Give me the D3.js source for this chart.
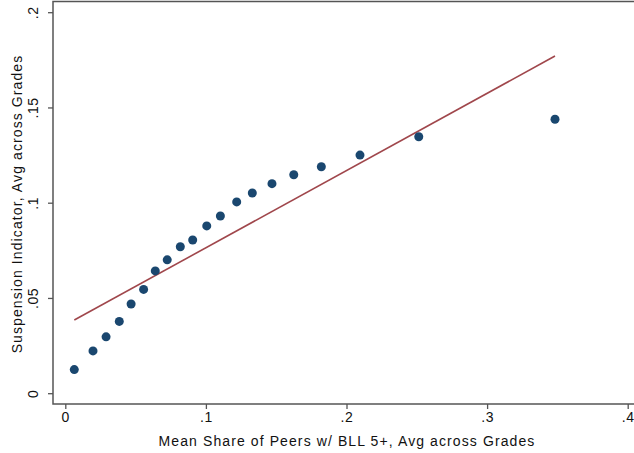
<!DOCTYPE html>
<html>
<head>
<meta charset="utf-8">
<script src="https://cdn.jsdelivr.net/npm/d3@7"></script>
<style>
  body { margin: 0; background: #fff; }
  text { font-family: "Liberation Sans", Arial, sans-serif; fill: #111; }
</style>
</head>
<body>
<div id="chart"></div>
<script>
// binned scatter: share of peers w/ BLL 5+ vs suspension
var peerShare = [0.0064, 0.0197, 0.0290, 0.0384, 0.0468, 0.0557, 0.0640, 0.0725, 0.0818, 0.0906,
	0.1006, 0.1103, 0.1219, 0.1330, 0.1470, 0.1625, 0.1821, 0.2096, 0.2514, 0.3483];
var suspension = [0.0124, 0.0222, 0.0296, 0.0377, 0.0468, 0.0545, 0.0642, 0.0700, 0.0769, 0.0804,
	0.0878, 0.0930, 0.1004, 0.1051, 0.1100, 0.1147, 0.1189, 0.1250, 0.1346, 0.1438];
// fitted line
var fitIntercept = 0.0358,
	fitSlope = 0.4054;

var xTicks = [0, 0.1, 0.2, 0.3, 0.4];
var yTicks = [0, 0.05, 0.1, 0.15, 0.2];
var xTitle = "Mean Share of Peers w/ BLL 5+, Avg across Grades";
var yTitle = "Suspension Indicator, Avg across Grades";

var W = 634, H = 453;
// plot frame (right edge runs off the picture)
var frame = {left: 53, top: 1.5, right: 660, bottom: 404};

var svg = d3.select("#chart").append("svg")
	.attr("width", W)
	.attr("height", H);

var x = d3.scaleLinear()
	.domain([0, 0.4])
	.range([65.3, 627.7]);

var y = d3.scaleLinear()
	.domain([0, 0.2])
	.range([393.2, 12.2]);

// stata style labels: ".1" not "0.1"
var fmt = d => d === 0 ? "0" : String(d).replace(/^0/, "");

var data = peerShare.map((d, i) => ({x: d, y: suspension[i]}));

// frame
svg.append("rect")
	.attr("x", frame.left)
	.attr("y", frame.top)
	.attr("width", frame.right - frame.left)
	.attr("height", frame.bottom - frame.top)
	.attr("fill", "none")
	.attr("stroke", "#555")
	.attr("stroke-width", 1.5);

// x axis
var xAxis = g => g
	.attr("transform", `translate(0,${frame.bottom})`)
	.call(d3.axisBottom(x).tickValues(xTicks).tickFormat(fmt).tickSize(5).tickPadding(3))
	.call(g => g.select(".domain").remove())
	.call(g => g.selectAll(".tick line").attr("stroke", "#555").attr("stroke-width", 1.3))
	.call(g => g.selectAll(".tick text")
		.attr("font-size", 14)
		.attr("letter-spacing", 0.6)
		.attr("fill", "#111"));

var yAxis = g => g
	.attr("transform", `translate(${frame.left},0)`)
	.call(d3.axisLeft(y).tickValues(yTicks).tickFormat(fmt).tickSize(5).tickPadding(3))
	.call(g => g.select(".domain").remove())
	.call(g => g.selectAll(".tick line").attr("stroke", "#555").attr("stroke-width", 1.3))
	.call(g => g.selectAll(".tick text")
		.attr("font-size", 14)
		.attr("letter-spacing", 0.6)
		.attr("fill", "#111")
		.attr("text-anchor", "middle")
		.attr("x", null)
		.attr("dy", null)
		.attr("transform", "translate(-15,0) rotate(-90)"));

svg.append("g").attr("font-family", null).call(xAxis);
svg.append("g").attr("font-family", null).call(yAxis);

// titles
svg.append("text")
	.attr("x", 347)
	.attr("y", 446)
	.attr("text-anchor", "middle")
	.attr("font-size", 14)
	.attr("letter-spacing", 1.1)
	.text(xTitle);

svg.append("text")
	.attr("transform", "translate(22,204) rotate(-90)")
	.attr("text-anchor", "middle")
	.attr("font-size", 14)
	.attr("letter-spacing", 1.1)
	.text(yTitle);

// fitted line over the data range
var xr = d3.extent(peerShare);
svg.append("path")
	.datum(xr.map(v => ({x: v, y: fitIntercept + fitSlope * v})))
	.attr("fill", "none")
	.attr("stroke", "#a0474c")
	.attr("stroke-width", 1.6)
	.attr("d", d3.line().x(d => x(d.x)).y(d => y(d.y)));

// dots
svg.append("g")
	.attr("fill", "#1a476f")
	.selectAll("circle")
	.data(data)
	.join("circle")
	.attr("cx", d => x(d.x))
	.attr("cy", d => y(d.y))
	.attr("r", 4.5);
</script>
</body>
</html>
